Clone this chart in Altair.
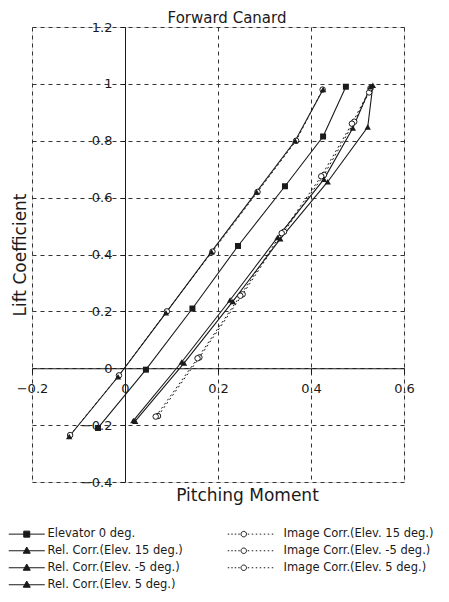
import altair as alt
import pandas as pd

# ---------------- data ----------------
series_names = [
    "Elevator 0 deg.",
    "Rel. Corr.(Elev. 15 deg.)",
    "Rel. Corr.(Elev. -5 deg.)",
    "Rel. Corr.(Elev. 5 deg.)",
    "Image Corr.(Elev. 15 deg.)",
    "Image Corr.(Elev. -5 deg.)",
    "Image Corr.(Elev. 5 deg.)",
]
series_kind = ["elev0", "rel", "rel", "rel", "img", "img", "img"]

pm_elev0 = [-0.058, 0.045, 0.145, 0.243, 0.344, 0.426, 0.475]
cl_elev0 = [-0.21, -0.005, 0.21, 0.43, 0.64, 0.815, 0.99]

pm_rel15 = [-0.12, -0.015, 0.088, 0.186, 0.283, 0.366, 0.426]
cl_rel15 = [-0.24, -0.03, 0.195, 0.41, 0.62, 0.80, 0.98]

pm_relm5 = [0.022, 0.127, 0.232, 0.334, 0.436, 0.522, 0.533]
cl_relm5 = [-0.186, 0.018, 0.235, 0.455, 0.656, 0.848, 0.995]

pm_rel5 = [0.018, 0.122, 0.226, 0.328, 0.428, 0.49, 0.528]
cl_rel5 = [-0.184, 0.022, 0.24, 0.46, 0.665, 0.845, 0.99]

pm_img15 = [-0.118, -0.013, 0.09, 0.188, 0.285, 0.368, 0.425]
cl_img15 = [-0.235, -0.025, 0.2, 0.41, 0.62, 0.80, 0.98]

pm_imgm5 = [0.071, 0.16, 0.253, 0.342, 0.428, 0.493, 0.525]
cl_imgm5 = [-0.168, 0.038, 0.26, 0.48, 0.68, 0.867, 0.97]

pm_img5 = [0.066, 0.156, 0.248, 0.337, 0.422, 0.488, 0.528]
cl_img5 = [-0.17, 0.035, 0.255, 0.475, 0.675, 0.86, 0.985]

pm_all = [pm_elev0, pm_rel15, pm_relm5, pm_rel5, pm_img15, pm_imgm5, pm_img5]
cl_all = [cl_elev0, cl_rel15, cl_relm5, cl_rel5, cl_img15, cl_imgm5, cl_img5]

x_ticks = [-0.2, 0, 0.2, 0.4, 0.6]
y_ticks = [-0.4, -0.2, 0, 0.2, 0.4, 0.6, 0.8, 1.0, 1.2]

rows = []
for name, kind, xs_, ys_ in zip(series_names, series_kind, pm_all, cl_all):
    for i, (xv, yv) in enumerate(zip(xs_, ys_)):
        rows.append({"series": name, "kind": kind, "pm": xv, "cl": yv, "idx": i})
df = pd.DataFrame(rows)

# legend fills columns top-down: 4 rows -> left column Elevator/Rel, right column Image
legend_order = list(series_names)

SOLID = "M-3.6,0H3.6"
DOTS = ("M-7,0H-6.7M-6.3,0H-6M-5.6,0H-5.3M-4.9,0H-4.6"
        "M-3,0H-2.7M-2.2,0H-1.9M-1.4,0H-1.1M-0.6,0H-0.3M0.2,0H0.5M1,0H1.3M1.8,0H2.1")
SQ = "M-0.6,-0.6H0.6V0.6H-0.6Z"
TRI = "M0,-0.75L0.7,0.5H-0.7Z"
CIRC = "M-3.25,0A0.55,0.55 0 1,1 -4.35,0A0.55,0.55 0 1,1 -3.25,0Z"
sym = {"elev0": SOLID + SQ, "rel": SOLID + TRI, "img": DOTS + CIRC}
FONT = "DejaVu Sans"
INK = "#1a1a1a"
fillc = {"elev0": INK, "rel": INK, "img": "white"}
kind_of = dict(zip(series_names, series_kind))
legend_shapes = [sym[kind_of[s]] for s in legend_order]
legend_fills = [fillc[kind_of[s]] for s in legend_order]
legend_strokes = [INK for s in legend_order]

# ---------------- layout ----------------
W, H = 372, 455
x_dom = [-0.2, 0.6]
y_dom = [-0.4, 1.2]
x_off = -(0 - y_dom[0]) / (y_dom[1] - y_dom[0]) * H
y_off = -(0 - x_dom[0]) / (x_dom[1] - x_dom[0]) * W

xs = alt.Scale(domain=x_dom, nice=False, zero=False)
ys = alt.Scale(domain=y_dom, nice=False, zero=False)

GRID = "#333333"
grid_x = alt.Axis(orient="bottom", values=x_ticks, labels=False, ticks=False, domain=False,
                  grid=True, gridDash=[4, 4], gridColor=GRID, gridWidth=1,
                  title="Pitching Moment", titleFont=FONT, titleFontSize=17,
                  titleFontWeight="normal", titleColor=INK, titlePadding=5, titleX=215)
grid_y = alt.Axis(orient="left", values=y_ticks, labels=False, ticks=False, domain=False,
                  grid=True, gridDash=[4, 4], gridColor=GRID, gridWidth=1,
                  title="Lift Coefficient", titleFont=FONT, titleFontSize=17,
                  titleFontWeight="normal", titleColor=INK, titlePadding=3)
lab_x = alt.Axis(orient="bottom", offset=x_off, values=x_ticks, format="~g", grid=False,
                 domain=True, domainColor=INK, domainWidth=1, ticks=True, tickSize=5,
                 tickColor=INK, labelFont=FONT, labelFontSize=13, labelColor=INK,
                 labelPadding=9, labelFlush=False, labelOverlap=False, title=None)
lab_y = alt.Axis(orient="left", offset=y_off, values=y_ticks, format="~g", grid=False,
                 domain=True, domainColor=INK, domainWidth=1, ticks=True, tickSize=5,
                 tickColor=INK, labelFont=FONT, labelFontSize=13, labelColor=INK,
                 labelPadding=8, labelOverlap=False, title=None)

base = alt.Chart(df)

lines_solid = base.transform_filter("datum.kind != 'img'").mark_line(
    color=INK, strokeWidth=1.1
).encode(
    x=alt.X("pm:Q", scale=xs, axis=grid_x),
    y=alt.Y("cl:Q", scale=ys, axis=grid_y),
    detail="series:N",
    order="idx:Q",
)

lines_dot = base.transform_filter("datum.kind == 'img'").mark_line(
    color=INK, strokeWidth=1, strokeDash=[2, 3]
).encode(
    x=alt.X("pm:Q", scale=xs, axis=None),
    y=alt.Y("cl:Q", scale=ys, axis=None),
    detail="series:N",
    order="idx:Q",
)

pts_open = base.transform_filter("datum.kind == 'img'").mark_point(
    shape="circle", filled=False, fill="white", fillOpacity=1, stroke=INK, strokeWidth=1,
    size=30, opacity=1
).encode(
    x=alt.X("pm:Q", scale=xs, axis=None),
    y=alt.Y("cl:Q", scale=ys, axis=None),
)

pts_tri = base.transform_filter("datum.kind == 'rel'").mark_point(
    shape="triangle-up", filled=True, color=INK, size=40, opacity=1
).encode(
    x=alt.X("pm:Q", scale=xs, axis=None),
    y=alt.Y("cl:Q", scale=ys, axis=None),
)

pts_sq = base.transform_filter("datum.kind == 'elev0'").mark_point(
    shape="square", filled=True, color=INK, size=36, opacity=1
).encode(
    x=alt.X("pm:Q", scale=xs, axis=lab_x),
    y=alt.Y("cl:Q", scale=ys, axis=lab_y),
)

leg_kw = dict(title=None, orient="none", legendX=-11, legendY=501, columns=2,
              columnPadding=42, rowPadding=4, labelFont=FONT, labelFontSize=11.5,
              labelColor=INK, labelOffset=15, symbolSize=100, symbolStrokeColor=INK,
              symbolStrokeWidth=1, padding=0)

legend_layer = base.transform_filter("false").mark_point(
    filled=True, strokeWidth=1, opacity=1
).encode(
    x=alt.X("pm:Q", scale=xs, axis=None),
    y=alt.Y("cl:Q", scale=ys, axis=None),
    shape=alt.Shape("series:N", scale=alt.Scale(domain=legend_order, range=legend_shapes),
                    legend=alt.Legend(**leg_kw)),
    fill=alt.Fill("series:N", scale=alt.Scale(domain=legend_order, range=legend_fills),
                  legend=alt.Legend(**leg_kw)),
    stroke=alt.Stroke("series:N", scale=alt.Scale(domain=legend_order, range=legend_strokes),
                      legend=alt.Legend(**leg_kw)),
)

chart = alt.layer(
    lines_solid, lines_dot, pts_open, pts_tri, pts_sq, legend_layer
).resolve_axis(
    x="independent", y="independent"
).properties(
    width=W, height=H,
    title=alt.TitleParams("Forward Canard", font=FONT, fontSize=15, fontWeight="normal",
                          color=INK, anchor="middle", offset=-4.5, dx=9, frame="group"),
    autosize=alt.AutoSizeParams(type="none"),
    padding={"left": 24, "top": 19, "right": 37, "bottom": 112},
).configure_view(
    stroke=INK, strokeWidth=1
).configure(background="white")

chart.save("out.html", embed_options={"renderer": "svg", "actions": False})
